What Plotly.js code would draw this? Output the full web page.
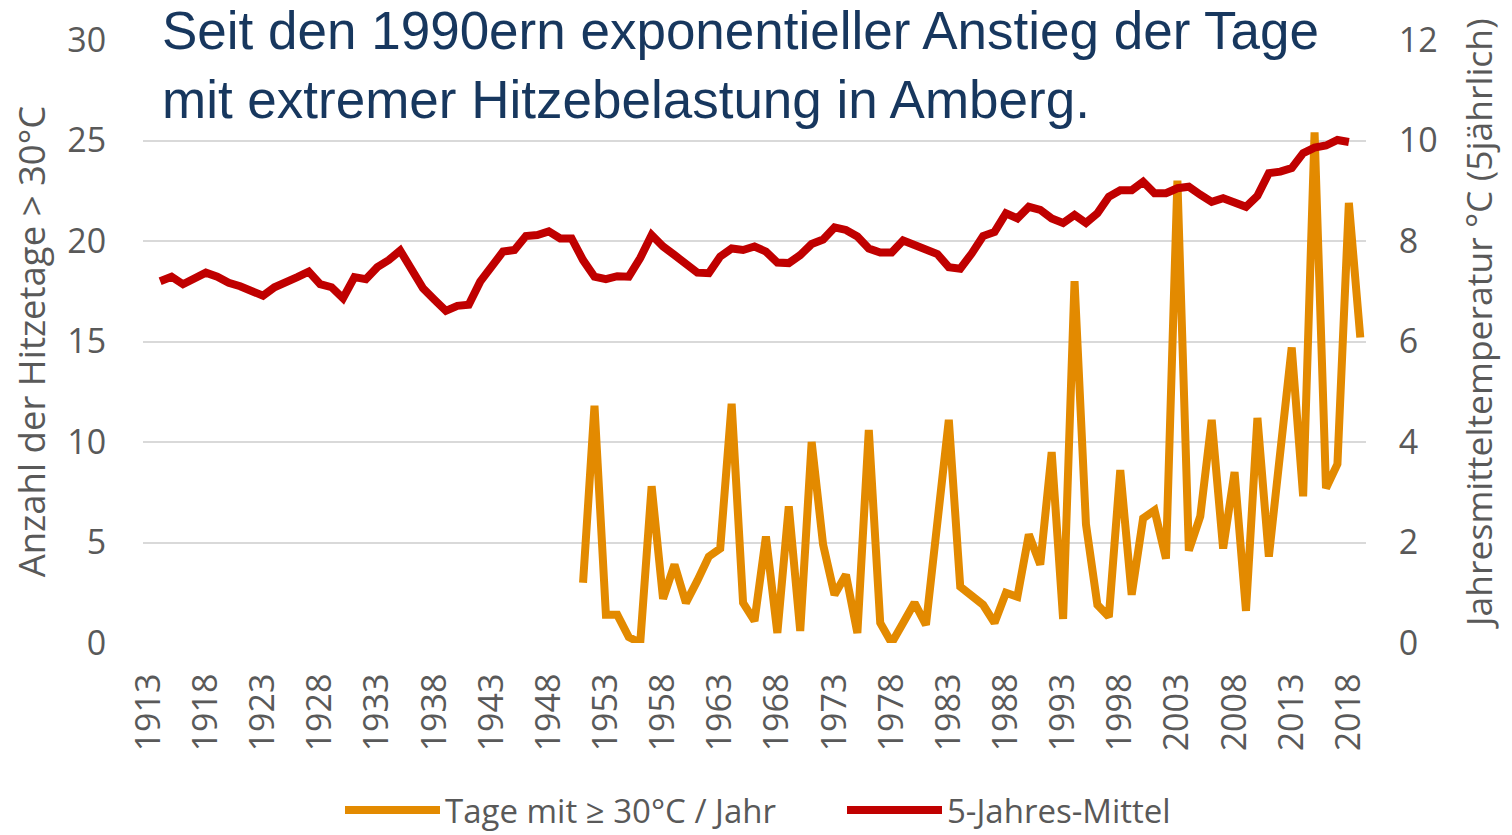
<!DOCTYPE html>
<html>
<head>
<meta charset="utf-8">
<script src="https://cdn.plot.ly/plotly-3.0.1.min.js"></script>
<style>
  html, body { margin: 0; padding: 0; background: #ffffff; }
  #chart { width: 1512px; height: 835px; }
</style>
</head>
<body>
<div id="chart"></div>
<script>
// ---- Data ----
const hotYears = [1951,1952,1953,1954,1955,1956,1957,1958,1959,1960,
  1961,1962,1963,1964,1965,1966,1967,1968,1969,1970,
  1971,1972,1973,1974,1975,1976,1977,1978,1979,1980,
  1981,1982,1983,1984,1985,1986,1987,1988,1989,1990,
  1991,1992,1993,1994,1995,1996,1997,1998,1999,2000,
  2001,2002,2003,2004,2005,2006,2007,2008,2009,2010,
  2011,2012,2013,2014,2015,2016,2017,2018,2019];
const hotDays = [3.0,11.8,1.4,1.4,0.3,0.0,7.8,2.2,3.9,2.0,
  3.1,4.3,4.7,11.9,2.0,1.1,5.3,0.5,6.8,0.6,
  10.0,4.9,2.4,3.4,0.5,10.6,1.0,0.0,1.0,2.0,
  0.9,6.0,11.1,2.8,2.3,1.9,1.0,2.5,2.3,5.4,
  3.9,9.5,1.2,18.0,5.9,1.9,1.3,8.6,2.4,6.2,
  6.6,4.2,23.0,4.6,6.3,11.1,4.7,8.5,1.6,11.2,
  4.3,9.5,14.7,7.3,25.4,7.7,8.9,21.9,15.2];

const meanYears = [1914,1915,1916,1917,1918,1919,1920,
  1921,1922,1923,1924,1925,1926,1927,1928,1929,1930,
  1931,1932,1933,1934,1935,1936,1937,1938,1939,1940,
  1941,1942,1943,1944,1945,1946,1947,1948,1949,1950,
  1951,1952,1953,1954,1955,1956,1957,1958,1959,1960,
  1961,1962,1963,1964,1965,1966,1967,1968,1969,1970,
  1971,1972,1973,1974,1975,1976,1977,1978,1979,1980,
  1981,1982,1983,1984,1985,1986,1987,1988,1989,1990,
  1991,1992,1993,1994,1995,1996,1997,1998,1999,2000,
  2001,2002,2003,2004,2005,2006,2007,2008,2009,2010,
  2011,2012,2013,2014,2015,2016,2017,2018];
const meanTemp = [7.20,7.29,7.14,7.26,7.37,7.29,7.17,
  7.10,6.99,6.91,7.08,7.16,7.28,7.39,7.14,7.08,6.86,
  7.28,7.24,7.48,7.62,7.81,7.42,7.06,6.83,6.61,6.71,
  6.73,7.19,7.49,7.79,7.82,8.10,8.12,8.19,8.05,8.05,
  7.62,7.29,7.24,7.30,7.29,7.66,8.12,7.89,7.72,7.56,
  7.37,7.36,7.69,7.85,7.82,7.89,7.79,7.57,7.56,7.72,
  7.94,8.03,8.27,8.22,8.09,7.85,7.77,7.77,8.01,7.92,
  7.82,7.74,7.48,7.45,7.75,8.10,8.18,8.55,8.45,8.68,
  8.62,8.45,8.36,8.52,8.36,8.55,8.88,9.01,9.01,9.18,
  8.95,8.95,9.05,9.08,8.92,8.78,8.85,8.76,8.68,8.90,
  9.35,9.38,9.45,9.75,9.86,9.90,10.01,9.97];

const xTickVals = [1913,1918,1923,1928,1933,1938,1943,1948,1953,1958,1963,
  1968,1973,1978,1983,1988,1993,1998,2003,2008,2013,2018];
const xTickText = ["1913","1918","1923","1928","1933","1938","1943","1948","1953","1958","1963",
  "1968","1973","1978","1983","1988","1993","1998","2003","2008","2013","2018"];

const seriesNames = ["Tage mit ≥ 30°C / Jahr", "5-Jahres-Mittel"];
const titleLines = ["Seit den 1990ern exponentieller Anstieg der Tage",
  "mit extremer Hitzebelastung in Amberg."];
const leftAxisTitle = "Anzahl der Hitzetage > 30°C";
const rightAxisTitle = "Jahresmitteltemperatur °C (5jährlich)";

// ---- Style ----
const ORANGE = "#E38A00";
const RED = "#C00000";
const GREY = "#595959";
const GRID = "#D9D9D9";
const FONT = "Open Sans, DejaVu Sans, sans-serif";
const tickFont = { family: FONT, size: 34, color: GREY };
const titleFont = { family: "Liberation Sans, Arial, sans-serif", size: 53, color: "#17375E" };

const traces = [
  {
    x: hotYears, y: hotDays, name: seriesNames[0], type: "scatter", mode: "lines",
    line: { color: ORANGE, width: 8, shape: "linear" }, yaxis: "y", hoverinfo: "skip"
  },
  {
    x: meanYears, y: meanTemp, name: seriesNames[1], type: "scatter", mode: "lines",
    line: { color: RED, width: 8, shape: "linear" }, yaxis: "y2", hoverinfo: "skip"
  }
];

const PLOT_LEFT = 143, PLOT_W = 1223, PLOT_TOP = 40, PLOT_H = 603;
function paperY(px) { return 1 - (px - PLOT_TOP) / PLOT_H; }
function paperX(px) { return (px - PLOT_LEFT) / PLOT_W; }

const layout = {
  width: 1512, height: 835,
  paper_bgcolor: "#ffffff", plot_bgcolor: "#ffffff",
  margin: { l: PLOT_LEFT, r: 1512 - PLOT_LEFT - PLOT_W, t: PLOT_TOP, b: 835 - PLOT_TOP - PLOT_H, pad: 0, autoexpand: false },
  showlegend: true,
  annotations: [
    { text: titleLines[0], xref: "paper", x: paperX(160), xanchor: "left",
      yref: "paper", y: paperY(31), yanchor: "middle", showarrow: false, font: titleFont, align: "left" },
    { text: titleLines[1], xref: "paper", x: paperX(160), xanchor: "left",
      yref: "paper", y: paperY(99), yanchor: "middle", showarrow: false, font: titleFont, align: "left" },
    { text: rightAxisTitle, xref: "paper", x: paperX(1478), xanchor: "center",
      yref: "paper", y: paperY(323), yanchor: "middle", textangle: -90, showarrow: false,
      font: { family: FONT, size: 35.5, color: GREY } }
  ],
  xaxis: {
    range: [1912.5, 2019.5],
    tickmode: "array", tickvals: xTickVals, ticktext: xTickText,
    tickangle: -90, tickfont: tickFont,
    showgrid: false, zeroline: false, showline: false,
    ticks: "outside", ticklen: 16, tickcolor: "rgba(0,0,0,0)",
    automargin: false
  },
  yaxis: {
    range: [0, 30], tickmode: "array", tickvals: [0,5,10,15,20,25,30],
    tickfont: tickFont, showgrid: true, gridcolor: GRID, gridwidth: 2,
    zeroline: false, showline: false, ticks: "outside", ticklen: 29, tickcolor: "rgba(0,0,0,0)",
    title: { text: leftAxisTitle, font: { family: FONT, size: 36.5, color: GREY }, standoff: 10 },
    automargin: false
  },
  yaxis2: {
    range: [0, 12], tickmode: "array", tickvals: [0,2,4,6,8,10,12],
    overlaying: "y", side: "right",
    tickfont: tickFont, showgrid: false, zeroline: false, showline: false,
    ticks: "outside", ticklen: 25, tickcolor: "rgba(0,0,0,0)",
    automargin: false
  },
  legend: {
    orientation: "h", x: paperX(340), xanchor: "left", y: -(810 - 643) / PLOT_H, yanchor: "middle",
    font: { family: FONT, size: 33, color: GREY },
    itemwidth: 95, entrywidth: 392, bgcolor: "rgba(0,0,0,0)"
  }
};

Plotly.newPlot("chart", traces, layout, { displayModeBar: false, staticPlot: true });
</script>
</body>
</html>
